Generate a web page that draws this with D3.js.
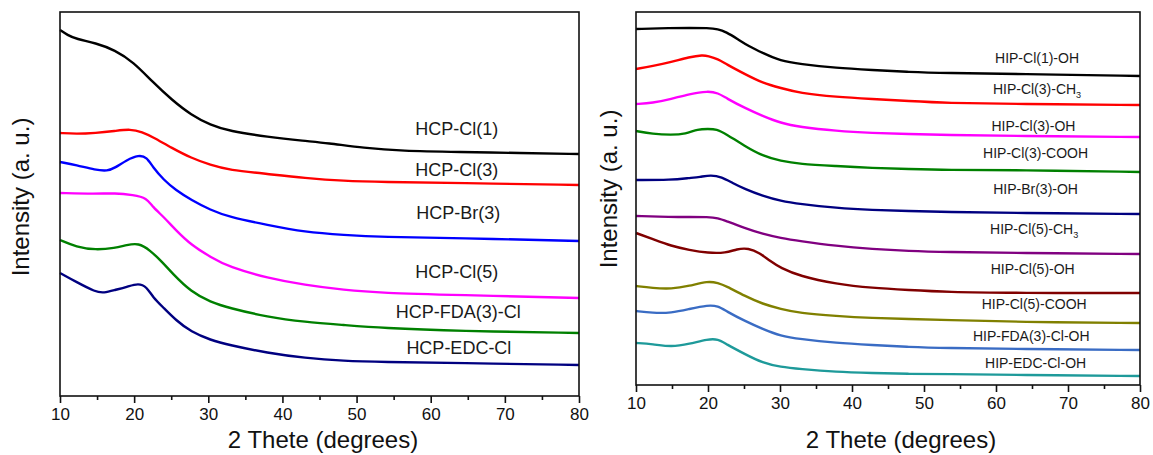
<!DOCTYPE html>
<html>
<head>
<meta charset="utf-8">
<script src="https://cdn.jsdelivr.net/npm/d3@7"></script>
<style>
  html, body { margin: 0; padding: 0; background: #fff; }
  svg { display: block; font-family: Arial, "Liberation Sans", sans-serif; }
</style>
</head>
<body>
<svg id="chart" width="1153" height="455"></svg>
<script>
// ---------- DATA ----------
const xTicks = [10, 20, 30, 40, 50, 60, 70, 80];
const xMinorTicks = [15, 25, 35, 45, 55, 65, 75];

// Left panel (HCP) — [2θ, intensity a.u.]
const leftNames = ["HCP-Cl(1)", "HCP-Cl(3)", "HCP-Br(3)", "HCP-Cl(5)", "HCP-FDA(3)-Cl", "HCP-EDC-Cl"];
const leftColors = ["#000000", "#ff0000", "#0000ff", "#ff00ff", "#008000", "#000080"];
const hcpCl1 = [[10,366],[11,361],[12.2,357],[14.8,353],[17.4,346],[19.9,334],[22.5,314],[25.1,296],[27.7,281],[30.3,271],[32.8,265],[38,259],[43,255],[46,253],[51,248],[56,245],[64,244],[72,243],[80,242]];
const hcpCl3 = [[10,263],[12.2,262],[14.8,263],[17.4,265],[19.5,267],[21.1,264],[22.5,259],[25.1,248],[27.7,238],[30.3,231],[32.8,226],[38,222],[43,218],[48.3,215],[53.4,214],[63.7,213],[80,211]];
const hcpBr3 = [[10,234],[12.2,231],[14.8,226],[16.4,225],[17.4,228],[19,236],[20.6,241],[21.7,239],[22.5,229],[24,216],[25.6,206],[27.7,196],[30.3,186],[32.8,179],[38,171],[43,164],[48.3,161],[53.4,159],[63.7,158],[80,155]];
const hcpCl5 = [[10,203],[14.8,202],[17.4,203],[19.9,201],[21.7,198],[22.5,189],[24,179],[25.6,166],[27.7,151],[30.3,139],[32.8,129],[38,118],[43,111],[48.3,106],[53.4,103],[63.7,101],[80,98]];
const hcpFda3 = [[10,156],[12.2,149],[14.8,146],[17.4,148],[19,151],[20.6,153],[22.1,146],[23.8,134],[25.1,123],[27.7,104],[30.3,94],[32.8,88],[38,79],[43,74],[48.3,71],[53.4,68],[63.7,65],[80,63]];
const hcpEdc = [[10,123],[12.2,114],[14.8,104],[15.9,103],[17.4,106],[19,109],[20.6,113],[21.7,109],[22.5,99],[24,88],[25.6,76],[27.7,64],[30.3,56],[32.8,51],[38,43],[43,38],[48.3,35],[53.4,34],[63.7,33],[80,31]];
const leftSeries = [hcpCl1, hcpCl3, hcpBr3, hcpCl5, hcpFda3, hcpEdc];
// label anchor positions in data coords [2θ, intensity]
const leftLabelPos = [[63.5,261],[63.5,220],[63.7,177],[63.5,118],[63.7,78],[63.8,42]];

// Right panel (HIP)
const rightNames = ["HIP-Cl(1)-OH", "HIP-Cl(3)-CH|3", "HIP-Cl(3)-OH", "HIP-Cl(3)-COOH", "HIP-Br(3)-OH", "HIP-Cl(5)-CH|3", "HIP-Cl(5)-OH", "HIP-Cl(5)-COOH", "HIP-FDA(3)-Cl-OH", "HIP-EDC-Cl-OH"];
const rightColors = ["#000000", "#ff0000", "#ff00ff", "#008000", "#000080", "#800080", "#800000", "#808000", "#3a6cc4", "#1e9a9a"];
const hipCl1OH   = [[10,356],[14.9,357],[17.4,357],[20,357],[21.4,356],[22.5,353],[24.1,346],[25.6,339],[27.6,332],[30.1,324],[32.7,321],[37.8,317],[42.8,315],[47.9,313],[53,312],[63.1,311],[80,309]];
const hipCl3CH3  = [[10,316],[12.3,319],[14.9,323],[17.4,328],[19.3,330],[20,329],[21.4,326],[22.5,321],[25.1,311],[27.6,302],[30.1,297],[32.7,292],[37.8,288],[42.8,286],[47.9,284],[53,282],[63.1,281],[80,280]];
const hipCl3OH   = [[10,281],[12.3,282],[14.9,286],[17.4,291],[20,294],[21.4,292],[22.5,287],[25.1,277],[27.6,269],[30.1,262],[32.7,258],[37.8,254],[42.8,252],[47.9,251],[53,250],[63.1,249],[80,248]];
const hipCl3COOH = [[10,254],[12.3,251],[14.9,250],[16.9,251],[18.6,256],[20,256],[21.2,256],[22.5,251],[25.1,239],[27.6,229],[30.1,224],[32.7,221],[37.8,219],[42.8,217],[47.9,216],[53,215],[63.1,215],[80,213]];
const hipBr3OH   = [[10,205],[14.9,205],[17.4,207],[18.9,208],[20.4,210],[21.9,208],[23.4,202],[25.1,196],[27.6,189],[30.1,184],[32.7,181],[37.8,177],[42.8,175],[47.9,174],[53,173],[63.1,172],[80,171]];
const hipCl5CH3  = [[10,169],[14.9,168],[17.4,168],[20,168],[21.4,167],[22.5,164],[25.1,157],[27.6,151],[30.1,147],[32.7,144],[37.8,139],[42.8,136],[47.9,134],[53,133],[63.1,132],[80,131]];
const hipCl5OH   = [[10,152],[12.3,146],[14.9,139],[17.4,135],[20,132],[22.5,132],[24,136],[25.6,137],[27.2,132],[28.6,124],[30.1,117],[32.7,109],[37.8,101],[42.8,97],[47.9,95],[53,93],[63.1,92],[80,92]];
const hipCl5COOH = [[10,99],[12.3,97],[14.9,96],[17.4,99],[20,104],[21.4,102],[22.5,99],[25.1,89],[27.6,81],[30.1,76],[32.7,72],[37.8,69],[42.8,67],[47.9,66],[53,65],[63.1,63],[80,62]];
const hipFda3OH  = [[10,74],[12.3,72],[14.9,72],[17.4,76],[20,80],[21.4,79],[22.5,74],[25.1,64],[27.6,56],[30.1,49],[32.7,46],[37.8,42],[42.8,40],[47.9,38],[53,37],[63.1,36],[80,35]];
const hipEdcOH   = [[10,42],[12.3,41],[14.9,38],[17.4,41],[20,46],[21.4,46],[22.5,41],[25.1,31],[27.6,22],[30.1,18],[32.7,16],[37.8,13],[42.8,12],[47.9,11],[53,11],[63.1,10],[80,9]];
const rightSeries = [hipCl1OH, hipCl3CH3, hipCl3OH, hipCl3COOH, hipBr3OH, hipCl5CH3, hipCl5OH, hipCl5COOH, hipFda3OH, hipEdcOH];
const rightLabelPos = [[65.7,322],[65.7,291],[65.2,254],[65.5,227],[65.5,191],[65.3,151],[65.1,111],[65.3,76],[64.9,44],[65.5,17]];

const xTitle = "2 Thete (degrees)";
const yTitle = "Intensity (a. u.)";

// ---------- DRAW ----------
const svg = d3.select("#chart");

function panel(cfg) {
  const x = d3.scaleLinear().domain([10, 80]).range([cfg.left, cfg.right]);
  const y = d3.scaleLinear().domain([0, cfg.yMax]).range([cfg.bottom, cfg.top]);
  const g = svg.append("g");

  const line = d3.line().x(d => x(d[0])).y(d => y(d[1])).curve(d3.curveBasis);

  cfg.series.forEach((s, i) => {
    g.append("path").datum(s)
      .attr("d", line)
      .attr("fill", "none")
      .attr("stroke", cfg.colors[i])
      .attr("stroke-width", 2.4)
      .attr("stroke-linejoin", "round");
  });

  // labels
  cfg.names.forEach((n, i) => {
    const p = cfg.labelPos[i];
    const t = g.append("text")
      .attr("x", x(p[0])).attr("y", y(p[1]))
      .attr("text-anchor", "middle")
      .attr("font-size", cfg.labelSize)
      .attr("fill", "#1a1a1a");
    const parts = n.split("|");
    t.append("tspan").text(parts[0]);
    if (parts[1]) {
      t.append("tspan").attr("font-size", cfg.labelSize * 0.65).attr("dy", 4).text(parts[1]);
    }
  });

  // frame
  g.append("rect")
    .attr("x", cfg.left).attr("y", cfg.top)
    .attr("width", cfg.right - cfg.left).attr("height", cfg.bottom - cfg.top)
    .attr("fill", "none").attr("stroke", "#111").attr("stroke-width", 1.6);

  // bottom axis
  const ax = g.append("g").attr("transform", `translate(0,${cfg.bottom})`)
    .call(d3.axisBottom(x).tickValues(xTicks).tickSize(7).tickPadding(5).tickFormat(d3.format("d")));
  ax.select(".domain").remove();
  ax.selectAll(".tick line").attr("stroke", "#111").attr("stroke-width", 1.6);
  ax.selectAll(".tick text").attr("font-size", 17).attr("fill", "#111")
    .attr("font-family", "Arial, 'Liberation Sans', sans-serif");

  const axm = g.append("g").attr("transform", `translate(0,${cfg.bottom})`)
    .call(d3.axisBottom(x).tickValues(xMinorTicks).tickSize(4).tickFormat(""));
  axm.select(".domain").remove();
  axm.selectAll(".tick line").attr("stroke", "#111").attr("stroke-width", 1.6);

  // titles
  g.append("text").attr("x", cfg.xTitleX).attr("y", 448)
    .attr("text-anchor", "middle").attr("font-size", 24).attr("fill", "#111").text(xTitle);
  g.append("text")
    .attr("transform", `translate(${cfg.yTitleX},${cfg.yTitleY}) rotate(-90)`)
    .attr("text-anchor", "middle").attr("dy", "0.35em")
    .attr("font-size", 24).attr("fill", "#111").text(yTitle);
}

panel({
  left: 60, right: 579, top: 12, bottom: 396, yMax: 384,
  series: leftSeries, colors: leftColors, names: leftNames, labelPos: leftLabelPos, labelSize: 18,
  xTitleX: 323, yTitleX: 21, yTitleY: 197
});
panel({
  left: 636, right: 1140, top: 12, bottom: 385, yMax: 373,
  series: rightSeries, colors: rightColors, names: rightNames, labelPos: rightLabelPos, labelSize: 14,
  xTitleX: 901, yTitleX: 609, yTitleY: 189
});
</script>
</body>
</html>
